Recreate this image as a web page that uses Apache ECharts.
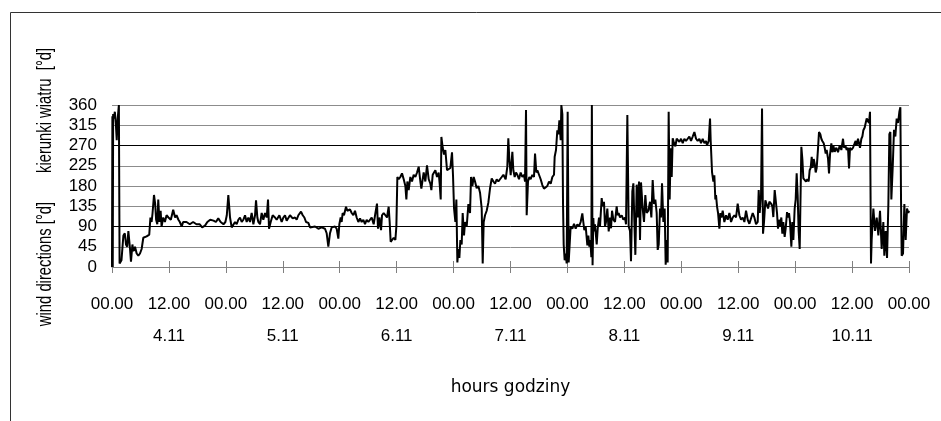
<!DOCTYPE html>
<html><head><meta charset="utf-8">
<script src="https://cdn.jsdelivr.net/npm/echarts@6/dist/echarts.min.js"></script>
<style>html,body{margin:0;padding:0;background:#fff}#c{width:941px;height:421px}</style>
</head><body><div id="c"></div>
<script>
// wind direction [deg] vs time [hours from 4.11 00.00]
const day4_11 = [[0,0],[0.08,335],[0.16,0],[0.24,340],[0.4,330],[0.6,345],[0.8,320],[1.0,282],[1.2,330],[1.45,360],[1.6,8],[2.0,15],[2.4,70],[2.7,75],[2.95,50],[3.2,45],[3.45,80],[3.8,40],[4.0,12],[4.3,50],[4.5,35],[4.85,45],[5.2,30],[5.55,25],[5.9,30],[6.25,40],[6.6,65],[6.95,65],[7.3,68],[7.85,72],[8.1,110],[8.35,100],[8.55,120],[8.85,160],[9.1,140],[9.3,105],[9.55,95],[9.75,150],[10.0,100],[10.25,125],[10.45,90],[10.8,110],[11.15,100],[11.5,115],[11.9,110],[12.4,105],[12.9,127],[13.3,110],[13.6,115],[14.0,105],[14.3,100],[14.7,90],[15.0,100],[15.7,100],[16.4,95],[17.1,100],[17.8,95],[18.5,95],[19.0,88],[19.6,92],[20.1,100],[20.7,105],[21.4,103],[21.9,100],[22.4,108],[22.9,100],[23.5,95],[23.9,100]];
const day5_11 = [[24.2,115],[24.52,160],[24.88,110],[25.23,88],[25.58,90],[25.93,100],[26.28,95],[26.63,105],[26.98,110],[27.34,100],[27.69,105],[28.04,115],[28.39,100],[28.74,110],[29.09,100],[29.44,120],[29.8,95],[30.15,115],[30.36,148],[30.64,110],[30.85,100],[31.2,95],[31.55,120],[31.9,105],[32.26,120],[32.61,110],[32.89,150],[33.1,85],[33.45,100],[33.87,115],[34.36,110],[34.71,105],[35.28,115],[35.77,100],[36.12,110],[36.47,115],[36.82,103],[37.17,105],[37.52,115],[38.09,108],[38.58,110],[38.93,105],[39.28,115],[39.84,123],[40.2,115],[40.55,110],[40.9,100],[41.39,98],[41.74,88],[42.09,85],[42.8,90],[43.5,85],[44.2,88],[44.9,85],[45.25,75],[45.6,45],[45.95,75],[46.3,88],[46.66,85],[47.01,90],[47.36,85],[47.71,63],[47.92,95]];
const day6_11 = [[48.2,110],[48.41,100],[48.62,120],[48.9,115],[49.33,134],[49.61,125],[50.17,128],[50.52,120],[50.87,115],[51.22,125],[51.57,110],[51.93,100],[52.28,108],[52.63,100],[52.98,105],[53.33,95],[53.68,105],[54.04,100],[54.39,105],[54.74,110],[55.16,95],[55.51,119],[55.86,141],[56.07,85],[56.36,110],[56.71,82],[56.92,115],[57.27,120],[57.62,115],[57.97,110],[58.32,134],[58.53,100],[58.74,56],[59.03,52],[59.38,65],[59.73,60],[59.94,90],[60.15,200],[60.43,195],[60.78,200],[61.13,208],[61.49,195],[61.84,180],[62.05,150],[62.26,190],[62.54,171],[62.89,200],[63.24,190],[63.59,205],[63.95,200],[64.3,210],[64.65,223],[65.0,190],[65.21,174],[65.49,195],[65.7,210],[66.05,190],[66.4,226],[66.76,195],[67.11,185],[67.32,171],[67.6,205],[67.88,210],[68.16,215],[68.51,200],[68.86,210],[69.07,185],[69.29,150],[69.43,289],[69.71,265],[69.99,250],[70.27,260],[70.62,215],[70.97,215],[71.32,220],[71.67,255],[71.88,204]];
const day7_11 = [[72.1,130],[72.38,100],[72.59,150],[72.8,10],[73.0,40],[73.22,20],[73.43,60],[73.71,50],[73.92,120],[74.2,70],[74.42,100],[74.77,90],[75.12,140],[75.47,120],[75.68,200],[75.96,180],[76.24,200],[76.52,190],[76.87,175],[77.23,180],[77.58,165],[77.93,130],[78.14,8],[78.35,100],[78.63,115],[78.98,125],[79.33,143],[79.69,175],[80.04,197],[80.39,190],[80.74,185],[81.09,195],[81.44,190],[81.79,195],[82.15,200],[82.5,205],[82.98,195],[83.33,223],[83.54,286],[83.75,240],[84.04,204],[84.39,256],[84.6,215],[84.88,200],[85.16,210],[85.44,205],[85.79,195],[86.14,210],[86.49,200],[86.85,205],[87.06,190],[87.27,349],[87.41,115],[87.69,190],[87.97,200],[88.25,195],[88.6,205],[88.95,200],[89.17,252],[89.45,210],[89.66,215],[90.01,205],[90.36,195],[90.71,182],[91.06,174],[91.41,170],[91.76,180],[92.12,190],[92.47,185],[92.82,200],[93.17,205],[93.31,245],[93.59,260],[93.87,304],[94.08,295],[94.3,326],[94.58,282],[94.72,360],[94.93,340],[95.07,141],[95.21,50],[95.42,15],[95.63,30],[95.84,8]];
const day8_11 = [[96.05,345],[96.26,10],[96.47,50],[96.68,90],[97.04,85],[97.39,96],[97.74,85],[98.09,95],[98.44,90],[98.79,100],[99.14,119],[99.35,100],[99.56,82],[99.85,90],[100.2,48],[100.41,70],[100.62,45],[100.83,60],[101.04,22],[101.15,360],[101.3,4],[101.46,109],[101.6,79],[101.81,95],[102.17,50],[102.38,85],[102.66,110],[102.87,90],[103.22,153],[103.43,135],[103.71,145],[103.92,90],[104.13,100],[104.41,130],[104.7,79],[104.98,110],[105.19,86],[105.4,125],[105.68,105],[106.03,100],[106.38,135],[106.59,115],[106.8,120],[107.08,110],[107.44,115],[107.79,105],[108.14,110],[108.35,95],[108.63,338],[108.91,90],[109.19,80],[109.4,13],[109.68,168],[109.9,186],[110.11,100],[110.32,27],[110.6,183],[110.81,110],[111.09,190],[111.3,60],[111.51,188],[111.86,130],[112.14,100],[112.42,160],[112.71,120],[113.06,125],[113.41,145],[113.69,110],[113.97,193],[114.25,140],[114.53,150],[114.81,120],[115.03,38],[115.24,50],[115.52,130],[115.73,110],[115.94,186],[116.22,100],[116.5,130],[116.71,5],[116.92,60],[117.13,10],[117.34,345],[117.55,150],[117.77,264],[117.98,200],[118.19,286],[118.47,275],[118.75,268],[119.03,285],[119.24,285],[119.6,278],[119.95,285]];
const day9_11 = [[120.3,275],[120.65,285],[121.0,280],[121.35,285],[121.7,290],[122.05,280],[122.41,290],[122.76,300],[123.11,285],[123.46,280],[123.81,285],[124.16,275],[124.51,285],[124.87,275],[125.22,280],[125.43,270],[125.78,280],[126.06,330],[126.2,280],[126.48,211],[126.76,190],[126.97,204],[127.18,150],[127.32,160],[127.54,134],[127.75,120],[128.03,85],[128.24,120],[128.45,110],[128.73,125],[129.08,100],[129.43,115],[129.78,105],[130.14,120],[130.49,100],[130.84,110],[131.19,115],[131.54,110],[131.89,141],[132.24,115],[132.6,105],[132.95,110],[133.3,100],[133.65,125],[134.0,105],[134.35,96],[134.7,100],[135.06,120],[135.41,110],[135.76,95],[136.11,100],[136.32,171],[136.53,120],[136.81,160],[137.02,352],[137.23,74],[137.44,100],[137.72,148],[138.0,150],[138.29,130],[138.57,145],[138.98,140],[139.19,135],[139.4,111],[139.69,171],[139.97,174],[140.18,120],[140.39,85],[140.6,105],[140.81,90],[141.09,110],[141.3,74],[141.51,100],[141.79,67],[142.0,85],[142.29,122],[142.5,110],[142.71,120],[142.92,100],[143.2,45],[143.41,100],[143.62,60],[143.9,130]];
const day10_11 = [[144.11,150],[144.32,208],[144.53,160],[144.74,80],[144.96,40],[145.17,37],[145.31,267],[145.52,240],[145.73,197],[146.01,195],[146.29,190],[146.57,195],[146.85,190],[147.06,215],[147.27,220],[147.49,245],[147.7,220],[147.91,240],[148.12,230],[148.33,210],[148.54,220],[148.82,263],[149.03,300],[149.31,295],[149.52,285],[149.73,280],[150.02,275],[150.23,265],[150.44,252],[150.65,260],[150.93,241],[151.14,208],[151.35,250],[151.63,275],[151.84,255],[152.05,270],[152.33,256],[152.69,265],[153.04,255],[153.39,270],[153.74,260],[154.09,285],[154.3,265],[154.58,270],[154.86,260],[155.14,265],[155.36,219],[155.57,265],[155.85,260],[156.2,265],[156.55,275],[156.76,280],[156.97,270],[157.25,285],[157.46,275],[157.67,265],[157.96,285],[158.17,290],[158.38,304],[158.66,310],[158.87,320],[159.08,330],[159.36,330],[159.57,320],[159.78,345],[159.99,8],[160.13,60],[160.49,130],[160.84,80],[161.19,110],[161.54,70],[161.89,125],[162.24,40],[162.59,100],[162.8,25],[163.09,80],[163.37,20],[163.65,140],[163.86,295],[164.07,300],[164.28,150],[164.56,220],[164.84,305],[165.12,290],[165.4,330],[165.69,320],[165.97,345],[166.18,355],[166.32,150],[166.46,25],[166.74,30],[167.02,140],[167.3,60],[167.58,130],[167.86,120],[168,125]];

const yTickValues = [0,45,90,135,180,225,270,315,360];
const timeLabels = {0:'00.00',12:'12.00'};
const dateLabels = {12:'4.11',36:'5.11',60:'6.11',84:'7.11',108:'8.11',132:'9.11',156:'10.11'};
const yTitle = 'wind directions [°d]       kierunki wiatru  [°d]';
const xTitle = 'hours godziny';

const points = [].concat(day4_11, day5_11, day6_11, day7_11, day8_11, day9_11, day10_11);

const FONT = '"Liberation Sans", Arial, sans-serif';
const chart = echarts.init(document.getElementById('c'), null, {renderer:'canvas'});
chart.setOption({
  animation:false,
  backgroundColor:'#fff',
  graphic:[
    {type:'rect', shape:{x:10.5,y:12.5,width:960,height:440}, style:{fill:null, stroke:'#333', lineWidth:1}, silent:true, z:-10},
    {type:'text', x:45, y:187, rotation:Math.PI/2, scaleX:0.74, scaleY:1,
     style:{text:yTitle, fill:'#000', font:'20px '+FONT, textAlign:'center', textVerticalAlign:'middle'}, silent:true}
  ],
  grid:{left:112, right:32, top:105, bottom:154, containLabel:false},
  xAxis:[{
    type:'value', min:0, max:168, interval:12,
    axisLine:{show:true, lineStyle:{color:'#808080', width:1}},
    axisTick:{show:true, length:6, lineStyle:{color:'#808080'}},
    splitLine:{show:false},
    axisLabel:{margin:21, color:'#000', fontFamily:FONT, fontSize:17, lineHeight:32,
      formatter:v=>{const r=v%24; const t=timeLabels[r]; return dateLabels[v]? t+'\n'+dateLabels[v] : t;}},
    name:xTitle, nameLocation:'middle', nameGap:112,
    nameTextStyle:{color:'#000', fontFamily:'"DejaVu Sans", sans-serif', fontSize:17}
  },{
    type:'value', min:0, max:168, interval:12, position:'bottom',
    axisLine:{show:false}, axisTick:{show:true, inside:true, length:6, lineStyle:{color:'#808080'}},
    axisLabel:{show:false}, splitLine:{show:false}
  }],
  yAxis:{
    type:'value', min:0, max:360, interval:45,
    axisLine:{show:false}, axisTick:{show:false},
    splitLine:{show:true, lineStyle:{width:1, color:['#8c8c8c','#8c8c8c','#000','#8c8c8c','#8c8c8c','#8c8c8c','#000','#8c8c8c','#8c8c8c']}},
    axisLabel:{margin:15, color:'#000', fontFamily:FONT, fontSize:17}
  },
  series:[{type:'line', xAxisIndex:0, data:points, showSymbol:false, symbol:'none',
    lineStyle:{color:'#000', width:2}, z:5}]
});
</script></body></html>
